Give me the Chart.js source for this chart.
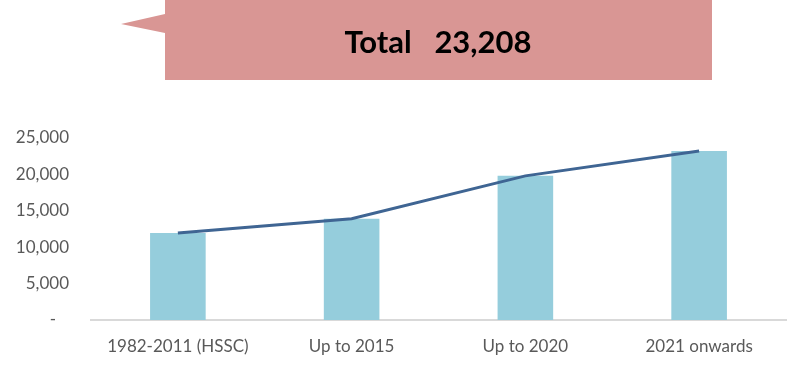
<!DOCTYPE html>
<html><head><meta charset="utf-8">
<script src="https://cdn.jsdelivr.net/npm/chart.js@4/dist/chart.umd.min.js"></script>
<style>html,body{margin:0;padding:0;background:#fff}#wrap{width:800px;height:366px;position:relative}</style>
</head><body><div id="wrap"><canvas id="c" width="800" height="366"></canvas></div>
<script>
const categories = ["1982-2011 (HSSC)", "Up to 2015", "Up to 2020", "2021 onwards"];
const barValues = [11950, 13900, 19800, 23208];
const lineValues = [11950, 13900, 19800, 23208];
const yTicks = [0, 5000, 10000, 15000, 20000, 25000];
const calloutText = "Total   23,208";

const calloutPlugin = {
  id: 'callout',
  beforeDraw(chart) {
    const ctx = chart.ctx;
    ctx.save();
    ctx.fillStyle = '#d99694';
    ctx.beginPath();
    ctx.moveTo(165, 0); ctx.lineTo(712, 0); ctx.lineTo(712, 80); ctx.lineTo(165, 80);
    ctx.lineTo(165, 33); ctx.lineTo(121, 24); ctx.lineTo(165, 14); ctx.closePath();
    ctx.fill();
    ctx.fillStyle = '#000';
    ctx.font = 'bold 31px Lato, "Open Sans", sans-serif';
    ctx.textAlign = 'center'; ctx.textBaseline = 'middle';
    ctx.fillText(calloutText, 438, 43);
    ctx.restore();
  }
};

new Chart(document.getElementById('c'), {
  data: {
    labels: categories,
    datasets: [
      { type: 'line', data: lineValues, borderColor: '#3f6593', borderWidth: 3, pointRadius: 0, tension: 0, order: 0 },
      { type: 'bar', data: barValues, backgroundColor: '#95cddc', barPercentage: 0.32, categoryPercentage: 1, order: 1 }
    ]
  },
  options: {
    responsive: false, animation: false,
    layout: { padding: { top: 138, right: 14, left: 0, bottom: 0 } },
    plugins: { legend: { display: false }, tooltip: { enabled: false } },
    scales: {
      x: {
        afterFit: (s) => { s.height = 46; },
        grid: { display: false, drawTicks: false },
        border: { color: '#d9d9d9', width: 2 },
        ticks: { color: '#595959', font: { family: 'Lato, "Open Sans", sans-serif', size: 17 }, padding: 16, maxRotation: 0 }
      },
      y: {
        min: 0, max: 25000,
        afterBuildTicks: (s) => { s.ticks = yTicks.map(v => ({ value: v })); },
        afterFit: (s) => { s.width = 91; },
        grid: { display: false, drawTicks: false },
        border: { display: false },
        ticks: {
          color: '#595959', font: { family: 'Lato, "Open Sans", sans-serif', size: 17 }, padding: 22,
          callback: (v) => v === 0 ? '-   ' : v.toLocaleString('en-US')
        }
      }
    }
  },
  plugins: [calloutPlugin]
});
</script></body></html>
